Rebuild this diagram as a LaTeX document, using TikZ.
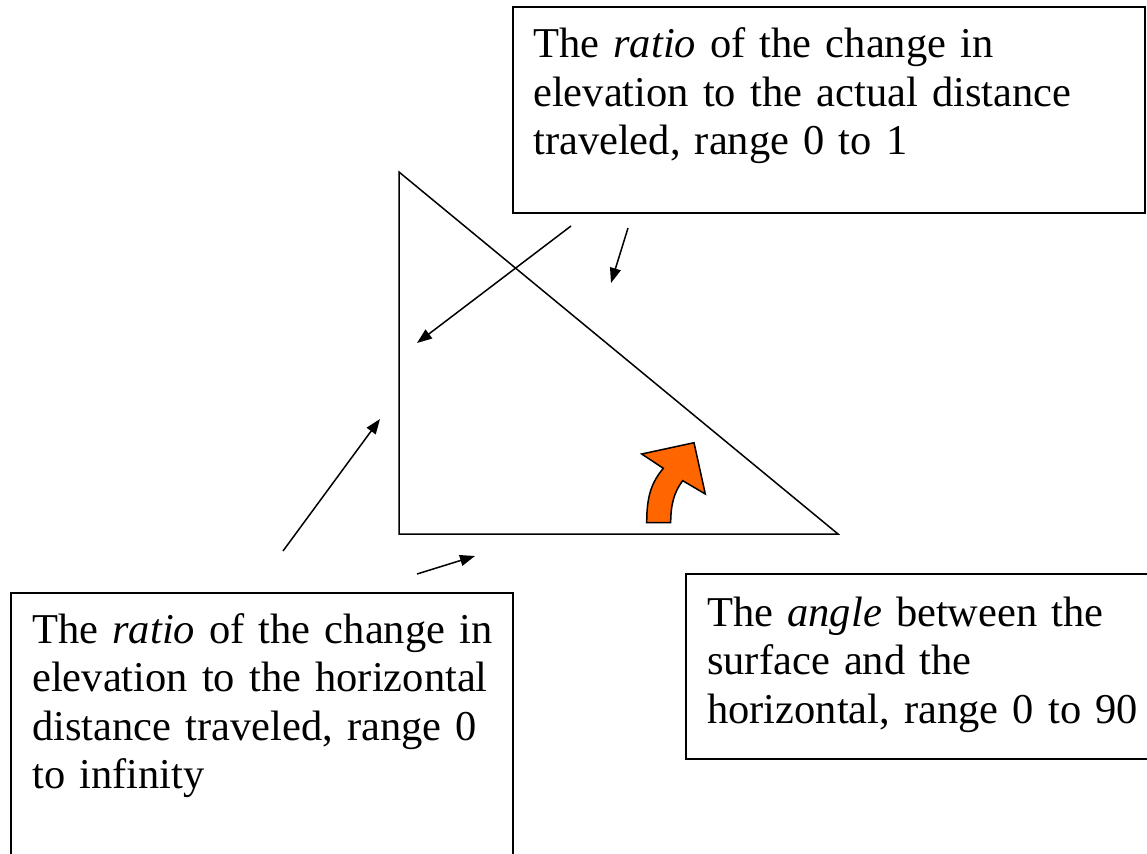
\documentclass[tikz,border=0pt]{standalone}
\usepackage{fontspec}
\setmainfont{Liberation Serif}
\usetikzlibrary{arrows.meta}
\definecolor{arroworange}{HTML}{FF6600}
\tikzset{
  box/.style={draw=black, line width=1.5pt, fill=white},
  txt/.style={anchor=base west, inner sep=0pt, text width=600pt, align=left,
              font=\fontsize{42.5}{48.5}\selectfont},
  pointer/.style={draw=black, line width=1.5pt, -{Triangle[length=15pt,width=11pt]}},
  tri/.style={draw=black, line width=1.5pt, line join=miter}
}
\begin{document}
\begin{tikzpicture}[x=1pt,y=-1pt]
\useasboundingbox (0,0) rectangle (1147,853);
% triangle
\coordinate (A) at (399,172);
\coordinate (B) at (399,534);
\coordinate (C) at (838,534);
\draw[tri] (A) -- (B) -- (C) -- cycle;
% boxes
\draw[box] (513,7) rectangle (1145,213);
\draw[box] (11,593) rectangle (513,870);
\draw[box] (686,574) rectangle (1160,759);
% texts
\node[txt] (ttop) at (533,58) {The \textit{ratio} of the change in\\elevation to the actual distance\\traveled, range 0 to 1};
\node[txt] (tleft) at (32,643) {The \textit{ratio} of the change in\\elevation to the horizontal\\distance traveled, range 0\\to infinity};
\node[txt] (tright) at (707,626) {The \textit{angle} between the\\surface and the\\horizontal, range 0 to 90};
% pointer arrows
\coordinate (p1s) at (571,226); \coordinate (p1e) at (417,343);
\coordinate (p2s) at (628,228); \coordinate (p2e) at (611,283);
\coordinate (p3s) at (283,551); \coordinate (p3e) at (380,419);
\coordinate (p4s) at (417,574); \coordinate (p4e) at (475,556);
\draw[pointer] (p1s) -- (p1e);
\draw[pointer] (p2s) -- (p2e);
\draw[pointer] (p3s) -- (p3e);
\draw[pointer] (p4s) -- (p4e);
% orange curved arrow
\draw[fill=arroworange, draw=black, line width=1.5pt, line join=miter]
  (646.7,522.7) .. controls (646.7,495) and (652,482) .. (663.3,468.3)
  -- (641.7,454) -- (694,442.7) -- (705.3,494) -- (682.7,480.7)
  .. controls (674,492) and (670.7,505) .. (670.7,522.7) -- cycle;
\end{tikzpicture}
\end{document}
